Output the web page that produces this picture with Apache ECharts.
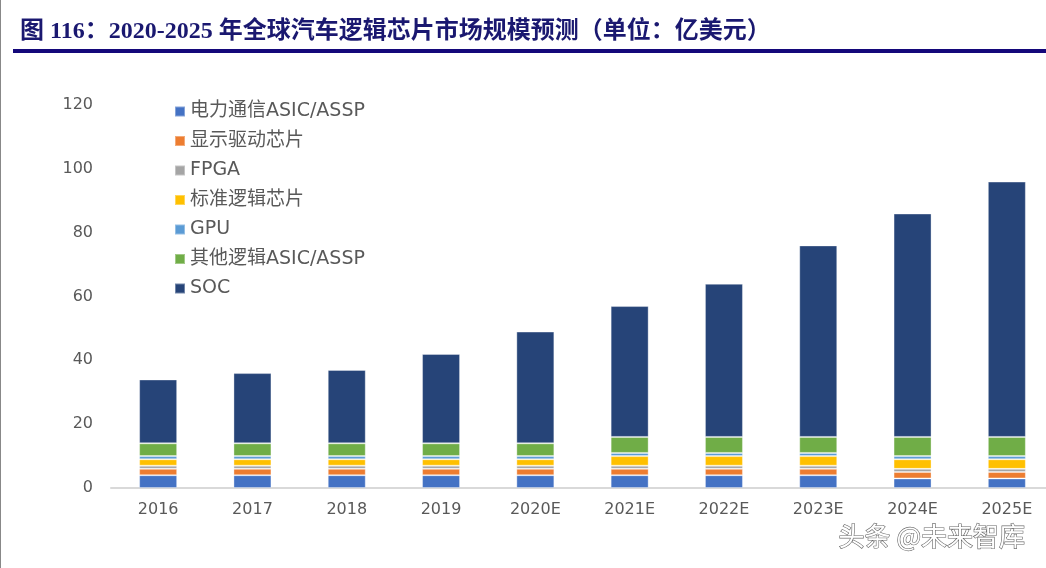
<!DOCTYPE html>
<html><head><meta charset="utf-8">
<script src="https://cdn.jsdelivr.net/npm/echarts@6/dist/echarts.min.js"></script>
<style>html,body{margin:0;padding:0;background:#fff;}#c{width:1046px;height:568px;}</style>
</head><body><div id="c"></div>
<script>
const categories = ['2016','2017','2018','2019','2020E','2021E','2022E','2023E','2024E','2025E'];
const seriesNames = ['电力通信ASIC/ASSP','显示驱动芯片','FPGA','标准逻辑芯片','GPU','其他逻辑ASIC/ASSP','SOC'];
const power = [4,4,4,4,4,4,4,4,3,3];
const display = [2,2,2,2,2,2,2,2,2,2];
const fpga = [1,1,1,1,1,1,1,1,1,1];
const stdLogic = [2,2,2,2,2,3,3,3,3,3];
const gpu = [1,1,1,1,1,1,1,1,1,1];
const otherLogic = [4,4,4,4,4,5,5,5,6,6];
const soc = [20,22,23,28,35,41,48,60,70,80];
const yTicks = [0,20,40,60,80,100,120];
const colors = ['#4472C4','#ED7D31','#A5A5A5','#FFC000','#5B9BD5','#70AD47','#264478'];
const dataArr = [power,display,fpga,stdLogic,gpu,otherLogic,soc];

const FONT = '"DejaVu Sans","Noto Sans CJK SC"';
const chart = echarts.init(document.getElementById('c'));
chart.setOption({
  animation:false,
  color: colors,
  title:{
    text:'图 116：2020-2025 年全球汽车逻辑芯片市场规模预测（单位：亿美元）',
    left:15, top:15,
    textStyle:{fontFamily:'"Liberation Serif","Noto Sans CJK SC"',fontWeight:'bold',fontSize:24,color:'#1a1870'}
  },
  legend:{
    orient:'vertical', left:169, top:97, itemGap:10.5,
    itemWidth:10, itemHeight:10, icon:'rect',
    textStyle:{fontFamily:FONT,fontSize:19,color:'#595959'},
    data: seriesNames
  },
  grid:{left:111, top:105, right:-8, height:383, outerBoundsMode:'none', containLabel:false},
  xAxis:{
    type:'category', data:categories,
    axisLine:{lineStyle:{color:'#d9d9d9',width:2}},
    axisTick:{show:false},
    axisLabel:{fontFamily:FONT,fontSize:16,color:'#595959',margin:14}
  },
  yAxis:{
    type:'value', min:0, max:120, interval:20,
    axisLine:{show:false}, axisTick:{show:false}, splitLine:{show:false},
    axisLabel:{fontFamily:FONT,fontSize:16,color:'#595959',margin:18}
  },
  series: seriesNames.map((n,i)=>({
    name:n, type:'bar', stack:'t', data:dataArr[i], barWidth:38,
    itemStyle:{color:colors[i], borderColor:'rgba(255,255,255,0.35)', borderWidth:1}
  })),
  graphic:[
    {type:'rect', shape:{x:13,y:49,width:1033,height:4}, style:{fill:'#14087a'}},
    {type:'rect', shape:{x:0,y:0,width:1,height:568}, style:{fill:'#888'}},
    {type:'text', left:838, top:523, style:{text:'头条 @未来智库', fontFamily:'"Noto Sans CJK SC"', fontSize:26, fill:'#ffffff', stroke:'#666', lineWidth:1.2}}
  ]
});
</script></body></html>
